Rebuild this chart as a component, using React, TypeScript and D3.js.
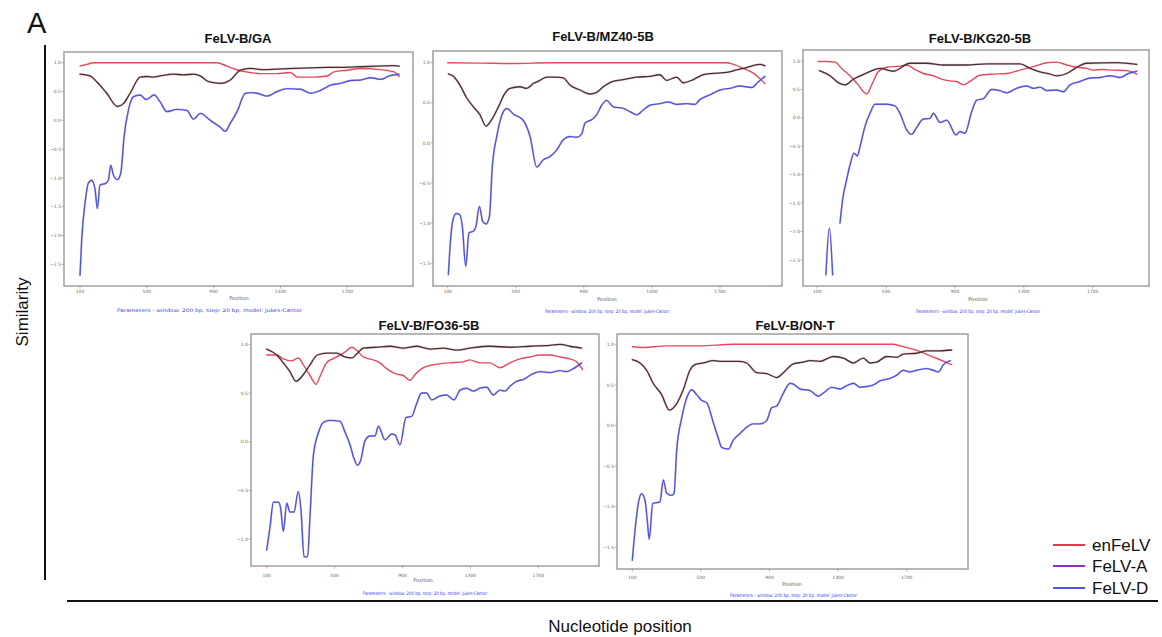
import React from 'react';
import * as d3 from 'd3';

type Pt = [number, number | null];

const seriesNames = ['enFeLV', 'FeLV-A', 'FeLV-D'];
const seriesColors = ['#e23a48', '#8e2fc4', '#4f55e8'];
const panelTitles = ['FeLV-B/GA', 'FeLV-B/MZ40-5B', 'FeLV-B/KG20-5B', 'FeLV-B/FO36-5B', 'FeLV-B/ON-T'];
const xTickValues = [100, 500, 900, 1300, 1700];
const yTicksGA = [1, 0.5, 0, -0.5, -1, -1.5, -2, -2.5];
const yTicksMZ = [1, 0.5, 0, -0.5, -1, -1.5];
const yTicksKG = [1, 0.5, 0, -0.5, -1, -1.5, -2, -2.5];
const yTicksFO = [1, 0.5, 0, -0.5, -1];
const yTicksON = [1, 0.5, 0, -0.5, -1, -1.5];
const captionText = 'Parameters - window: 200 bp, step: 20 bp, model: Jukes-Cantor';

// FeLV-B/GA
const gaEn: Pt[] = [[100,0.94],[140,0.97],[180,1.0],[300,1.0],[500,1.0],[700,1.0],[920,1.0],[980,0.94],[1060,0.86],[1120,0.83],[1180,0.81],[1280,0.81],[1360,0.83],[1400,0.75],[1500,0.75],[1580,0.77],[1620,0.84],[1700,0.87],[1780,0.9],[1900,0.88],[1980,0.84],[2010,0.76]];
const gaA: Pt[] = [[100,0.8],[160,0.77],[200,0.67],[260,0.47],[324,0.24],[360,0.29],[400,0.47],[460,0.75],[500,0.76],[540,0.75],[580,0.77],[660,0.8],[720,0.79],[780,0.8],[820,0.77],[870,0.67],[940,0.64],[1000,0.7],[1060,0.87],[1120,0.9],[1200,0.88],[1280,0.89],[1380,0.9],[1480,0.91],[1580,0.92],[1680,0.92],[1780,0.93],[1880,0.94],[1980,0.95],[2010,0.94]];
const gaD: Pt[] = [[100,-2.69],[110,-2.08],[130,-1.44],[150,-1.09],[170,-1.04],[190,-1.2],[204,-1.53],[220,-1.12],[250,-1.1],[270,-1.04],[284,-0.78],[300,-0.95],[324,-1.03],[344,-0.92],[364,-0.28],[390,0.18],[420,0.41],[460,0.44],[496,0.36],[544,0.44],[580,0.32],[620,0.15],[680,0.19],[740,0.17],[780,0.02],[820,0.12],[880,0.0],[940,-0.12],[970,-0.19],[1000,-0.05],[1040,0.15],[1090,0.47],[1120,0.48],[1160,0.47],[1220,0.42],[1280,0.5],[1340,0.55],[1420,0.54],[1480,0.47],[1540,0.52],[1600,0.61],[1660,0.64],[1720,0.69],[1780,0.7],[1840,0.74],[1900,0.71],[1950,0.77],[2010,0.8]];

// FeLV-B/MZ40-5B
const mzEn: Pt[] = [[100,1.0],[300,0.995],[486,0.99],[700,1.0],[1000,1.0],[1400,1.0],[1739,1.0],[1778,0.98],[1837,0.93],[1896,0.87],[1935,0.8],[1964,0.74]];
const mzA: Pt[] = [[104,0.86],[133,0.83],[172,0.72],[212,0.56],[251,0.45],[290,0.35],[325,0.21],[358,0.29],[398,0.45],[437,0.62],[466,0.68],[525,0.7],[564,0.68],[603,0.74],[642,0.78],[682,0.82],[740,0.82],[779,0.81],[819,0.72],[877,0.66],[936,0.61],[975,0.63],[1014,0.7],[1063,0.76],[1132,0.79],[1210,0.82],[1288,0.83],[1347,0.85],[1386,0.78],[1445,0.82],[1484,0.75],[1543,0.79],[1602,0.85],[1680,0.87],[1739,0.88],[1798,0.91],[1856,0.94],[1905,0.97],[1935,0.98],[1964,0.96]];
const mzD: Pt[] = [[104,-1.64],[114,-1.29],[129,-0.98],[149,-0.88],[169,-0.89],[186,-1.04],[206,-1.54],[225,-1.12],[251,-1.1],[266,-1.04],[286,-0.79],[306,-0.98],[325,-1.01],[345,-0.92],[362,-0.3],[388,0.08],[417,0.34],[447,0.43],[486,0.36],[544,0.28],[584,0.08],[623,-0.3],[662,-0.21],[701,-0.17],[740,-0.09],[779,0.04],[819,0.08],[858,0.07],[887,0.11],[907,0.25],[946,0.29],[975,0.35],[1005,0.47],[1034,0.53],[1073,0.45],[1132,0.43],[1171,0.39],[1210,0.35],[1249,0.41],[1288,0.47],[1347,0.49],[1396,0.51],[1445,0.48],[1504,0.49],[1553,0.48],[1582,0.54],[1641,0.6],[1700,0.66],[1758,0.68],[1817,0.71],[1886,0.69],[1925,0.76],[1964,0.83]];

// FeLV-B/KG20-5B
const kgEn: Pt[] = [[106,0.99],[160,0.99],[203,0.98],[241,0.87],[290,0.74],[338,0.58],[387,0.42],[416,0.58],[454,0.81],[503,0.89],[580,0.91],[619,0.93],[668,0.85],[716,0.78],[774,0.74],[822,0.68],[871,0.65],[910,0.64],[948,0.58],[987,0.64],[1045,0.75],[1123,0.77],[1200,0.78],[1278,0.84],[1355,0.9],[1433,0.97],[1491,0.98],[1549,0.93],[1607,0.89],[1665,0.87],[1704,0.84],[1762,0.85],[1820,0.84],[1898,0.83],[1956,0.77]];
const kgA: Pt[] = [[112,0.83],[174,0.74],[222,0.62],[261,0.58],[309,0.68],[387,0.79],[464,0.87],[542,0.82],[638,0.96],[735,0.96],[832,0.93],[968,0.93],[1084,0.95],[1278,0.95],[1336,0.87],[1394,0.81],[1442,0.78],[1491,0.74],[1549,0.78],[1597,0.87],[1665,0.96],[1839,0.97],[1956,0.94]];
const kgD: Pt[] = [[150,-2.76],[170,-1.94],[189,-2.76],[210,null],[232,-1.85],[247,-1.44],[270,-1.09],[290,-0.83],[313,-0.62],[332,-0.67],[348,-0.51],[377,-0.15],[406,0.08],[435,0.24],[503,0.24],[551,0.21],[580,0.08],[619,-0.21],[648,-0.29],[677,-0.17],[716,-0.02],[755,-0.01],[774,0.08],[813,-0.08],[852,-0.04],[906,-0.3],[929,-0.24],[958,-0.27],[997,0.11],[1026,0.31],[1065,0.34],[1113,0.5],[1161,0.48],[1200,0.44],[1258,0.52],[1316,0.56],[1355,0.52],[1394,0.54],[1433,0.48],[1491,0.49],[1530,0.46],[1568,0.58],[1626,0.64],[1684,0.7],[1743,0.71],[1801,0.74],[1859,0.71],[1907,0.78],[1956,0.82]];

// FeLV-B/FO36-5B
const foEn: Pt[] = [[100,0.89],[159,0.89],[198,0.85],[247,0.83],[286,0.86],[316,0.79],[355,0.68],[391,0.59],[414,0.67],[453,0.81],[512,0.87],[561,0.92],[601,0.97],[630,0.94],[669,0.87],[728,0.84],[767,0.81],[807,0.75],[856,0.7],[905,0.68],[944,0.63],[974,0.69],[1023,0.76],[1082,0.79],[1180,0.81],[1258,0.82],[1297,0.84],[1356,0.81],[1415,0.81],[1474,0.76],[1533,0.81],[1592,0.85],[1651,0.87],[1710,0.89],[1769,0.89],[1827,0.87],[1886,0.85],[1926,0.82],[1961,0.74]];
const foA: Pt[] = [[100,0.95],[159,0.89],[198,0.81],[237,0.72],[273,0.62],[316,0.69],[355,0.79],[398,0.89],[453,0.91],[512,0.91],[561,0.87],[601,0.86],[630,0.9],[669,0.96],[748,0.97],[826,0.98],[905,0.96],[983,0.98],[1062,0.95],[1140,0.96],[1219,0.94],[1297,0.96],[1415,0.98],[1533,0.97],[1651,0.98],[1769,0.99],[1827,1.0],[1886,0.98],[1955,0.96]];
const foD: Pt[] = [[100,-1.11],[120,-0.87],[139,-0.62],[169,-0.62],[182,-0.68],[198,-0.92],[218,-0.63],[237,-0.72],[261,-0.72],[286,-0.51],[302,-0.7],[320,-1.18],[341,-1.18],[355,-0.77],[375,-0.14],[404,0.09],[434,0.2],[473,0.22],[532,0.21],[561,0.1],[591,-0.03],[614,-0.17],[634,-0.24],[654,-0.19],[679,0.01],[709,0.06],[738,0.06],[758,0.16],[797,0.02],[836,0.08],[856,0.07],[885,-0.03],[921,0.25],[954,0.26],[983,0.39],[1013,0.5],[1042,0.5],[1072,0.43],[1121,0.47],[1160,0.48],[1203,0.43],[1239,0.53],[1278,0.55],[1317,0.52],[1356,0.55],[1396,0.56],[1435,0.48],[1474,0.53],[1504,0.52],[1533,0.57],[1572,0.62],[1612,0.64],[1670,0.7],[1710,0.72],[1769,0.71],[1827,0.73],[1867,0.72],[1906,0.75],[1955,0.81]];

// FeLV-B/ON-T
const onEn: Pt[] = [[100,0.97],[164,0.96],[300,0.98],[495,0.98],[689,1.0],[883,1.0],[1078,1.0],[1272,1.0],[1467,1.0],[1622,1.0],[1661,0.98],[1719,0.95],[1778,0.91],[1836,0.86],[1894,0.81],[1962,0.75]];
const onA: Pt[] = [[100,0.81],[145,0.77],[184,0.68],[222,0.52],[271,0.38],[316,0.19],[359,0.27],[397,0.44],[436,0.68],[465,0.75],[514,0.77],[572,0.8],[611,0.79],[670,0.79],[728,0.79],[767,0.77],[825,0.65],[883,0.64],[942,0.59],[981,0.65],[1039,0.76],[1097,0.78],[1136,0.8],[1194,0.79],[1272,0.85],[1331,0.83],[1389,0.77],[1447,0.83],[1486,0.77],[1525,0.78],[1583,0.85],[1642,0.84],[1680,0.88],[1758,0.89],[1817,0.92],[1894,0.92],[1962,0.93]];
const onD: Pt[] = [[100,-1.66],[116,-1.29],[135,-0.96],[154,-0.84],[174,-0.92],[187,-1.16],[199,-1.4],[219,-0.96],[242,-0.95],[261,-0.94],[281,-0.67],[300,-0.83],[329,-0.86],[343,-0.84],[359,-0.3],[388,0.09],[421,0.36],[446,0.44],[475,0.38],[504,0.31],[534,0.28],[572,0.04],[602,-0.16],[621,-0.27],[660,-0.29],[689,-0.18],[728,-0.1],[767,-0.02],[806,0.02],[845,0.02],[883,0.06],[913,0.22],[942,0.24],[981,0.4],[1020,0.52],[1039,0.51],[1078,0.45],[1136,0.43],[1185,0.36],[1214,0.4],[1263,0.47],[1311,0.45],[1350,0.49],[1389,0.52],[1428,0.47],[1467,0.48],[1506,0.5],[1544,0.55],[1603,0.58],[1642,0.62],[1680,0.68],[1719,0.66],[1758,0.68],[1817,0.7],[1855,0.68],[1885,0.66],[1914,0.75],[1953,0.8]];

interface PanelLayout {
  frame: [number, number, number, number];
  xPx: [number, number];
  yPx: [number, number];
  titleXY: [number, number];
  tickY: number;
  posXY: [number, number];
  caption: [number, number, number];
}

const panelData = [
  { ticks: yTicksGA, series: [gaEn, gaA, gaD] },
  { ticks: yTicksMZ, series: [mzEn, mzA, mzD] },
  { ticks: yTicksKG, series: [kgEn, kgA, kgD] },
  { ticks: yTicksFO, series: [foEn, foA, foD] },
  { ticks: yTicksON, series: [onEn, onA, onD] },
];

const layouts: PanelLayout[] = [
  { frame: [64, 52, 413, 286], xPx: [80, 347.3], yPx: [62.7, 264.3], titleXY: [238, 43], tickY: 293, posXY: [239, 300], caption: [117, 302, 312] },
  { frame: [433, 51, 782, 286], xPx: [447.7, 720], yPx: [62.7, 263.3], titleXY: [603, 41], tickY: 293, posXY: [607, 301], caption: [545, 669, 313] },
  { frame: [803, 50, 1149, 286], xPx: [817.3, 1092.7], yPx: [61, 260], titleXY: [980, 43], tickY: 293, posXY: [978, 301], caption: [916, 1040, 313] },
  { frame: [251, 334, 599, 566], xPx: [266.7, 538.3], yPx: [344.3, 539.3], titleXY: [429, 330], tickY: 577, posXY: [423, 582], caption: [363, 487, 595] },
  { frame: [617, 334, 968, 569], xPx: [632.3, 906.7], yPx: [344.3, 547.3], titleXY: [795, 330], tickY: 579, posXY: [792, 586], caption: [730, 857, 597] },
];

const fmt = d3.format('.1f');

function Panel({ idx }: { idx: number }) {
  const L = layouts[idx];
  const D = panelData[idx];
  const [x0, y0, x1, y1] = L.frame;
  const x = d3.scaleLinear().domain([xTickValues[0], xTickValues[xTickValues.length - 1]]).range(L.xPx);
  const y = d3.scaleLinear().domain([D.ticks[0], D.ticks[D.ticks.length - 1]]).range(L.yPx);
  const line = d3.line<Pt>().defined(d => d[1] !== null).x(d => x(d[0])).y(d => y(d[1] as number)).curve(d3.curveMonotoneX);
  const clipId = `clip-${idx}`;
  const [en, a, dd] = D.series;
  return (
    <g>
      <defs>
        <clipPath id={clipId}><rect x={x0} y={y0} width={x1 - x0} height={y1 - y0} /></clipPath>
      </defs>
      <text x={L.titleXY[0]} y={L.titleXY[1]} textAnchor="middle" fontFamily="Liberation Sans, Arial, sans-serif" fontWeight="bold" fontSize={13} fill="#111">{panelTitles[idx]}</text>
      <rect x={x0} y={y0} width={x1 - x0} height={y1 - y0} fill="#fff" stroke="#a8a4a4" strokeWidth={1.6} />
      {D.ticks.map(t => (
        <g key={`y${t}`}>
          <line x1={x0 - 2.5} x2={x0} y1={y(t)} y2={y(t)} stroke="#888" strokeWidth={0.6} />
          <text x={x0 - 3} y={y(t) + 1.6} textAnchor="end" fontSize={4.5} fontFamily="DejaVu Sans, sans-serif" fill="#666">{fmt(t)}</text>
        </g>
      ))}
      {xTickValues.map(t => (
        <g key={`x${t}`}>
          <line x1={x(t)} x2={x(t)} y1={y1} y2={y1 + 2.5} stroke="#888" strokeWidth={0.6} />
          <text x={x(t)} y={L.tickY} textAnchor="middle" fontSize={4.5} fontFamily="DejaVu Sans, sans-serif" fill="#666">{t}</text>
        </g>
      ))}
      <text x={L.posXY[0]} y={L.posXY[1]} textAnchor="middle" fontSize={5} fontFamily="DejaVu Sans, sans-serif" fill="#555">Position</text>
      <text x={L.caption[0]} y={L.caption[2]} textLength={L.caption[1] - L.caption[0]} lengthAdjust="spacingAndGlyphs" fontSize={4.8} fontFamily="DejaVu Sans, sans-serif" fill="#3a3ae8">{captionText}</text>
      <g clipPath={`url(#${clipId})`} fill="none" strokeLinejoin="round" strokeLinecap="round">
        <path d={line(a) || ''} stroke="#e06070" strokeOpacity={0.3} strokeWidth={2.4} />
        <path d={line(en) || ''} stroke="#e8465a" strokeWidth={1.4} />
        <path d={line(a) || ''} stroke="#3e3232" strokeWidth={1.3} />
        <path d={line(dd) || ''} stroke="#e06070" strokeOpacity={0.25} strokeWidth={2.2} />
        <path d={line(dd) || ''} stroke="#3e55ee" strokeWidth={1.4} />
        <path d={line(dd) || ''} stroke="#e0607a" strokeOpacity={0.5} strokeWidth={0.6} strokeDasharray="2 6" />
      </g>
    </g>
  );
}

export default function App() {
  const legendY = [545, 566, 588];
  return (
    <svg width={1162} height={637} style={{ position: 'absolute', left: 0, top: 0, background: '#fff' }}>
      <rect x={0} y={0} width={1162} height={637} fill="#fff" />
      <text x={27} y={33} fontSize={29} fontFamily="Liberation Sans, Arial, sans-serif" fill="#111">A</text>
      <line x1={45} x2={45} y1={45} y2={580} stroke="#111" strokeWidth={2} />
      <line x1={67} x2={1158} y1={601} y2={601} stroke="#111" strokeWidth={2} />
      <text transform="translate(28,312) rotate(-90)" textAnchor="middle" fontSize={17} fontFamily="Liberation Sans, Arial, sans-serif" fill="#111">Similarity</text>
      <text x={620} y={632} textAnchor="middle" fontSize={17} fontFamily="Liberation Sans, Arial, sans-serif" fill="#111">Nucleotide position</text>
      {layouts.map((_, i) => <Panel key={i} idx={i} />)}
      {seriesNames.map((n, i) => (
        <g key={n}>
          <line x1={1053} x2={1085} y1={legendY[i]} y2={legendY[i]} stroke={seriesColors[i]} strokeWidth={2} />
          <text x={1092} y={legendY[i] + 6} fontSize={17} fontFamily="Liberation Sans, Arial, sans-serif" fill="#111">{n}</text>
        </g>
      ))}
    </svg>
  );
}
